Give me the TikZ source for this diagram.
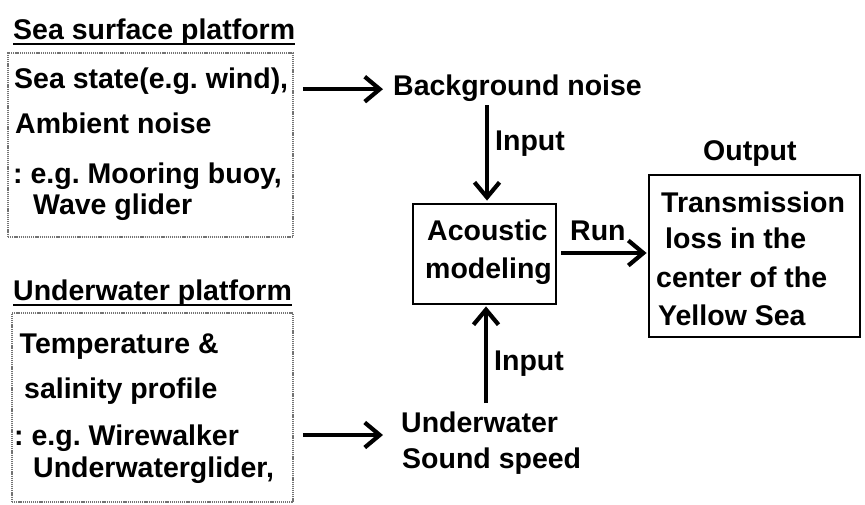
\documentclass[tikz,border=0pt]{standalone}
\usepackage{fontspec}
\setmainfont{Liberation Sans}
\usetikzlibrary{arrows.meta,calc}
\frenchspacing
\begin{document}
\frenchspacing
\begin{tikzpicture}[x=1pt,y=-1pt,
  txt/.style={inner sep=0pt, anchor=base west, font=\bfseries\fontsize{28.5}{34}\selectfont},
  dotbox/.style={draw=black!55, line width=1.5pt, dash pattern=on 1.2pt off 0.9pt, inner sep=0pt},
  solidbox/.style={draw=black, line width=2.8pt, inner sep=0pt},
  arr/.style={line width=4.2pt, -{Straight Barb[length=15pt,width=25pt]}},
  uline/.style={line width=2pt}
]
\useasboundingbox (0,0) rectangle (865,504);

% left boxes
\node[dotbox, minimum width=285pt, minimum height=184pt] (box1) at (150.5,145) {};
\node[dotbox, minimum width=281pt, minimum height=189pt] (box2) at (152.5,407.5) {};

% titles
\node[txt] (t1) at (13,39) {Sea surface platform};
\draw[uline] ($(t1.base west)+(0,4.5)$) -- ($(t1.base east)+(0,4.5)$);
\node[txt] (t2) at (13,300) {Underwater platform};
\draw[uline] ($(t2.base west)+(0,5)$) -- ($(t2.base east)+(0,5)$);

% box 1 text
\node[txt] (s1) at (14,88) {Sea state(e.g. wind),};
\node[txt] (s2) at (15,133) {Ambient noise};
\node[txt] (s3) at (13,183) {: e.g. Mooring buoy,};
\node[txt] (s4) at (33,214) {Wave glider};

% box 2 text
\node[txt] (u1) at (19.5,353) {Temperature \&};
\node[txt] (u2) at (24,398) {salinity profile};
\node[txt] (u3) at (14,445) {: e.g. Wirewalker};
\node[txt] (u4) at (33,477) {Underwaterglider,};

% middle column
\node[txt] (bg) at (393,95) {Background noise};
\node[txt] (in1) at (495,150) {Input};
\node[solidbox, minimum width=143pt, minimum height=100pt] (acm) at (484.5,254) {};
\node[txt] (ac1) at (427,240) {Acoustic};
\node[txt] (ac2) at (425,278) {modeling};
\node[txt] (in2) at (494,370) {Input};
\node[txt] (uw) at (401,432) {Underwater};
\node[txt] (ss) at (402,468) {Sound speed};

% right column
\node[txt] (run) at (570,240) {Run};
\node[txt] (out) at (703,160) {Output};
\node[solidbox, minimum width=211pt, minimum height=162pt] (outbox) at (754.5,256) {};
\node[txt] (o1) at (661,212) {Transmission};
\node[txt] (o2) at (665,248) {loss in the};
\node[txt] (o3) at (656,287) {center of the};
\node[txt] (o4) at (658,325) {Yellow Sea};

% connectors
\draw[arr] ($(box1.east |- bg.west)+(9,1.5)$) -- ($(bg.west)+(-10,1.5)$);
\draw[arr] ($(box2.east |- uw.base)+(9,3)$) -- ($(uw.base west)+(-18,3)$);
\draw[arr] ($(bg.south -| acm.north)+(2.5,4)$) -- ($(acm.north)+(2.5,-2)$);
\draw[arr] ($(uw.north -| acm.south)+(1.5,-8)$) -- ($(acm.south)+(1.5,1)$);
\draw[arr] ($(acm.east)+(4,-1)$) -- ($(acm.east -| outbox.west)+(-1,-1)$);
\end{tikzpicture}
\end{document}
